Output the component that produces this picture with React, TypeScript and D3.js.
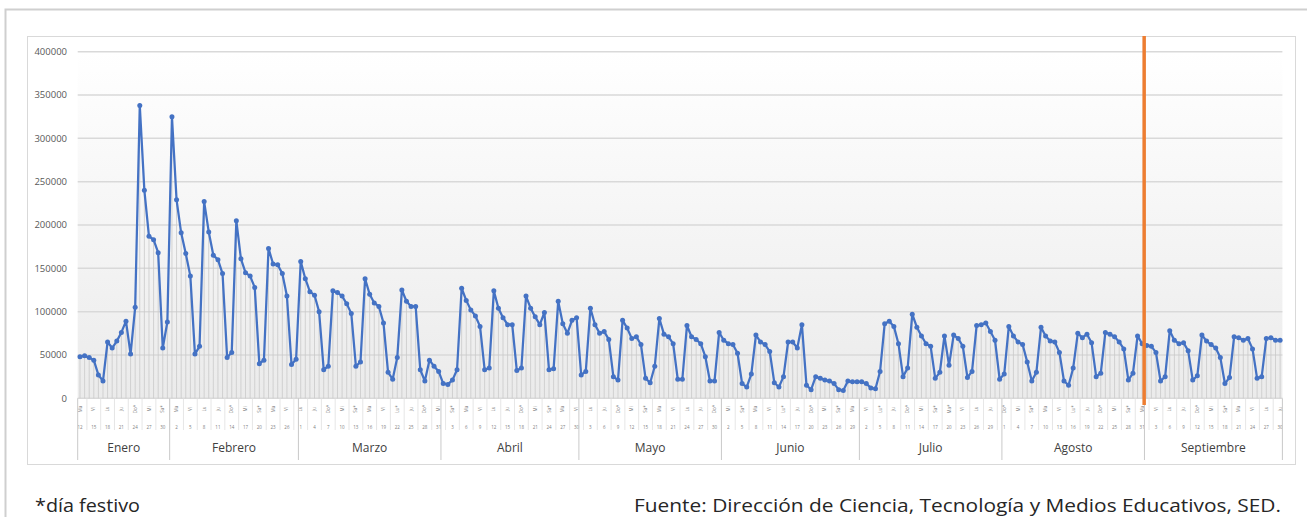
import React from "react";
import * as d3 from "d3";

// visitas diarias, 12 de enero a 30 de septiembre de 2021
const enero = [48000, 49000, 47000, 44000, 27000, 20000, 65000, 58000, 66000, 76000, 89000, 51000, 105000, 338000, 240000, 187000, 183000, 168000, 58000, 88000];
const febrero = [325000, 229000, 191000, 167000, 141000, 51000, 60000, 227000, 192000, 165000, 160000, 144000, 47000, 53000, 205000, 161000, 145000, 141000, 128000, 40000, 44000, 173000, 155000, 154000, 144000, 118000, 39000, 45000];
const marzo = [158000, 138000, 123000, 119000, 100000, 33000, 37000, 124000, 122000, 118000, 109000, 98000, 37000, 42000, 138000, 120000, 110000, 106000, 87000, 30000, 22000, 47000, 125000, 112000, 106000, 106000, 33000, 20000, 44000, 37000, 31000];
const abril = [17000, 16000, 21000, 33000, 127000, 113000, 102000, 95000, 83000, 33000, 35000, 124000, 104000, 93000, 85000, 85000, 32000, 35000, 118000, 104000, 94000, 85000, 99000, 33000, 34000, 112000, 86000, 75000, 90000, 93000];
const mayo = [27000, 31000, 104000, 85000, 75000, 77000, 68000, 25000, 21000, 90000, 81000, 69000, 71000, 62000, 23000, 18000, 37000, 92000, 74000, 71000, 63000, 22000, 22000, 84000, 71000, 68000, 63000, 48000, 20000, 20000, 76000];
const junio = [67000, 63000, 62000, 52000, 17000, 13000, 28000, 73000, 65000, 62000, 54000, 18000, 13000, 25000, 65000, 65000, 58000, 85000, 15000, 10000, 25000, 23000, 21000, 20000, 17000, 10000, 9000, 20000, 19000, 19000];
const julio = [19000, 17000, 12000, 11000, 31000, 86000, 89000, 83000, 63000, 25000, 35000, 97000, 82000, 72000, 63000, 60000, 23000, 30000, 72000, 38000, 73000, 69000, 60000, 24000, 31000, 84000, 85000, 87000, 77000, 67000, 22000];
const agosto = [28000, 83000, 72000, 65000, 62000, 42000, 20000, 30000, 82000, 72000, 66000, 65000, 53000, 20000, 15000, 35000, 75000, 70000, 74000, 64000, 25000, 29000, 76000, 74000, 71000, 65000, 57000, 21000, 29000, 72000, 63000];
const septiembre = [61000, 60000, 53000, 20000, 25000, 78000, 67000, 63000, 64000, 55000, 21000, 26000, 73000, 66000, 62000, 58000, 47000, 17000, 24000, 71000, 70000, 67000, 69000, 57000, 23000, 25000, 69000, 70000, 67000, 67000];

const meses = ["Enero", "Febrero", "Marzo", "Abril", "Mayo", "Junio", "Julio", "Agosto", "Septiembre"];
const diasSemana = ["Do", "Lu", "Ma", "Mi", "Ju", "Vi", "Sa"];
const festivos = ["3-22", "4-1", "4-2", "5-17", "6-7", "6-14", "7-5", "7-20", "8-16"];
const yTicks = [0, 50000, 100000, 150000, 200000, 250000, 300000, 350000, 400000];
const fechaCorte = "8-31";

const valores = [...enero, ...febrero, ...marzo, ...abril, ...mayo, ...junio, ...julio, ...agosto, ...septiembre];
const fechas = valores.map((_, i) => new Date(2021, 0, 12 + i));
const clave = (f: Date) => (f.getMonth() + 1) + "-" + f.getDate();

const font = "'Open Sans', 'Noto Sans', sans-serif";

export default function App() {
  const W = 1307, H = 517;
  const left = 77.7, right = 1282.4, top = 51.7, bottom = 398.3;

  const x = d3.scaleBand<number>().domain(d3.range(valores.length)).range([left, right]);
  const bw = x.bandwidth();
  const cx = (i: number) => (x(i) as number) + bw / 2;
  const y = d3.scaleLinear().domain([0, 400000]).range([bottom, top]);

  const linea = d3.line<number>().x((d, i) => cx(i)).y(d => y(d));

  // limites de mes
  const cortes: number[] = [0];
  fechas.forEach((f, i) => { if (i > 0 && f.getDate() === 1) cortes.push(i); });
  cortes.push(valores.length);
  const edge = (i: number) => (i >= valores.length ? right : (x(i) as number));

  const etiquetas = d3.range(0, valores.length, 3);
  const iCorte = fechas.findIndex(f => clave(f) === fechaCorte);

  return (
    <svg width={W} height={H} style={{ position: "absolute", left: 0, top: 0, background: "#fff" }}>
      <defs>
        <linearGradient id="fondo" x1="0" y1="0" x2="0" y2="1">
          <stop offset="0" stopColor="#ffffff" />
          <stop offset="1" stopColor="#ebebeb" />
        </linearGradient>
      </defs>
      <path d={`M${W},9.5H5.5V${H}`} fill="none" stroke="#cfcfcf" strokeWidth={2} />
      <rect x={27.5} y={36.5} width={1268} height={428} fill="#fff" stroke="#d9d9d9" />
      <rect x={left} y={top} width={right - left} height={bottom - top} fill="url(#fondo)" />

      {yTicks.map(t => (
        <g key={t}>
          <line x1={left} x2={right} y1={y(t)} y2={y(t)} stroke="#d9d9d9" strokeWidth={1.5} />
          <text x={67} y={y(t)} dy="0.35em" textAnchor="end" fontFamily={font} fontSize={9.5} fill="#595959">{t}</text>
        </g>
      ))}

      {valores.map((v, i) => (
        <line key={"d" + i} x1={cx(i)} x2={cx(i)} y1={y(v)} y2={bottom} stroke="#c9c9c9" strokeWidth={0.8} />
      ))}

      {/* eje x */}
      {etiquetas.map(i => {
        const f = fechas[i];
        const dw = f.getDay();
        const fest = dw === 0 || dw === 6 || festivos.includes(clave(f));
        return (
          <g key={"e" + i}>
            <text transform={`translate(${cx(i)},409) rotate(-90)`} textAnchor="middle" dy="0.35em" fontFamily={font} fontSize={4.5} fill="#7f7f7f">
              {diasSemana[dw] + (fest ? "*" : "")}
            </text>
            <text x={cx(i)} y={427} textAnchor="middle" dy="0.35em" fontFamily={font} fontSize={4.5} fill="#7f7f7f">{f.getDate()}</text>
            {i + 2 < valores.length && (
              <line x1={edge(i + 2)} x2={edge(i + 2)} y1={bottom} y2={430} stroke="#e0e0e0" strokeWidth={0.8} />
            )}
          </g>
        );
      })}
      {cortes.map(c => (
        <line key={"m" + c} x1={edge(c)} x2={edge(c)} y1={bottom} y2={460} stroke="#c9c9c9" strokeWidth={1} />
      ))}
      {meses.map((m, k) => (
        <text key={m} x={(edge(cortes[k]) + edge(cortes[k + 1])) / 2} y={452} textAnchor="middle" fontFamily={font} fontSize={12} fill="#404040">{m}</text>
      ))}

      <path d={linea(valores) || ""} fill="none" stroke="#4472C4" strokeWidth={2.25} strokeLinejoin="round" />
      {valores.map((v, i) => (
        <circle key={"c" + i} cx={cx(i)} cy={y(v)} r={2.5} fill="#4472C4" />
      ))}

      <line x1={cx(iCorte) + 2} x2={cx(iCorte) + 2} y1={36} y2={405} stroke="#ED7D31" strokeWidth={3.5} />

      <text x={35} y={512} fontFamily={font} fontSize={19} fill="#262626" textLength={105} lengthAdjust="spacingAndGlyphs">*día festivo</text>
      <text x={634} y={512} fontFamily={font} fontSize={19} fill="#262626" textLength={647} lengthAdjust="spacingAndGlyphs">Fuente: Dirección de Ciencia, Tecnología y Medios Educativos, SED.</text>
    </svg>
  );
}
